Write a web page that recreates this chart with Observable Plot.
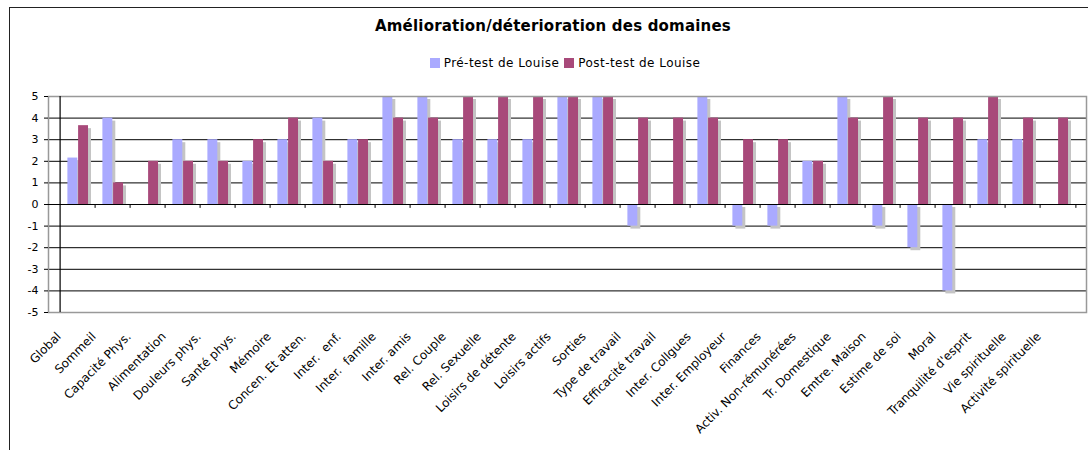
<!DOCTYPE html>
<html>
<head>
<meta charset="utf-8">
<script src="https://cdn.jsdelivr.net/npm/d3@7"></script>
<script src="https://cdn.jsdelivr.net/npm/@observablehq/plot@0.6"></script>
<style>
  html, body { margin: 0; padding: 0; background: #fff; }
  #wrap { position: relative; width: 1088px; height: 450px; overflow: hidden; font-family: "DejaVu Sans", Verdana, sans-serif; }
  #border { position: absolute; left: 9px; top: 7px; width: 1200px; height: 500px; border-top: 1px solid #222; border-left: 1px solid #222; }
  #title { position: absolute; left: 0; width: 1106px; top: 17px; text-align: center; font-weight: bold; font-size: 15px; letter-spacing: 0.2px; color: #000; }
  #legend { position: absolute; left: 0; width: 1130px; top: 56px; display: flex; justify-content: center; gap: 5px; font-size: 12px; letter-spacing: 0.45px; color: #000; }
  .item { display: flex; align-items: center; gap: 4px; }
  .sw { width: 10px; height: 10px; display: inline-block; }
  #chart { position: absolute; left: 0; top: 80px; }
</style>
</head>
<body>
<div id="wrap">
  <div id="border"></div>
  <div id="title">Amélioration/déterioration des domaines</div>
  <div id="legend"></div>
  <div id="chart"></div>
</div>
<script>
const categories = ["Global", "Sommeil", "Capacité Phys.", "Alimentation", "Douleurs phys.", "Santé phys.", "Mémoire", "Concen. Et atten.", "Inter.  enf.", "Inter.  famille", "Inter. amis", "Rel. Couple", "Rel. Sexuelle", "Loisirs de détente", "Loisirs actifs", "Sorties", "Type de travail", "Efficacité travail", "Inter. Collgues", "Inter. Employeur", "Finances", "Activ. Non-rémunérées", "Tr. Domestique", "Emtre. Maison", "Estime de soi", "Moral", "Tranquilité d'esprit", "Vie spirituelle", "Activité spirituelle"];
const seriesNames = ["Pré-test de Louise", "Post-test de Louise"];
const preValues  = [2.15, 4, 0, 3, 3, 2, 3, 4, 3, 5, 5, 3, 3, 3, 5, 5, -1, 0, 5, -1, -1, 2, 5, -1, -2, -4, 3, 3, 0];
const postValues = [3.65, 1, 2, 2, 2, 3, 4, 2, 3, 4, 4, 5, 5, 5, 5, 5, 4, 4, 4, 3, 3, 2, 4, 5, 4, 4, 5, 4, 4];
const yTicks = [-5, -4, -3, -2, -1, 0, 1, 2, 3, 4, 5];
const colors = ["#aaaaff", "#a8497a"];

// legend
const leg = document.getElementById("legend");
seriesNames.forEach((s, i) => {
  const it = document.createElement("span");
  it.className = "item";
  const sw = document.createElement("span");
  sw.className = "sw";
  sw.style.background = colors[i];
  it.appendChild(sw);
  it.appendChild(document.createTextNode(s));
  leg.appendChild(it);
});

const W = 1088, H = 370, mL = 48, mR = 2, mT = 16, mB = 138;
const bw = (W - mL - mR) / categories.length;
const barW = 10.7;
const preIn = [7.4, bw - 7.4 - barW];
const postIn = [7.4 + barW, bw - 7.4 - 2 * barW];

const pre = categories.map((c, i) => ({cat: c, v: preValues[i]}));
const post = categories.map((c, i) => ({cat: c, v: postValues[i]}));
const shadowCol = "#c4c4c4";

function shadows(data, ins) {
  return [
    Plot.barY(data.filter(d => d.v > 0), {x: "cat", y: "v", fill: shadowCol, insetLeft: ins[0], insetRight: ins[1], insetTop: 3, dx: 3}),
    Plot.barY(data.filter(d => d.v < 0), {x: "cat", y: "v", fill: shadowCol, insetLeft: ins[0], insetRight: ins[1], dx: 3, dy: 3})
  ];
}

const chart = Plot.plot({
  width: W, height: H,
  marginLeft: mL, marginRight: mR, marginTop: mT, marginBottom: mB,
  style: {fontFamily: "DejaVu Sans, Verdana, sans-serif", fontSize: "11px", color: "#000", background: "transparent"},
  x: {type: "band", domain: categories, padding: 0, label: null, axis: null},
  y: {domain: [-5, 5], label: null},
  marks: [
    Plot.ruleY(yTicks.filter(t => t !== 0 && Math.abs(t) !== 5), {stroke: "#000", strokeWidth: 1}),
    ...shadows(pre, preIn),
    ...shadows(post, postIn),
    Plot.barY(pre.filter(d => d.v !== 0), {x: "cat", y: "v", fill: colors[0], insetLeft: preIn[0], insetRight: preIn[1]}),
    Plot.barY(post.filter(d => d.v !== 0), {x: "cat", y: "v", fill: colors[1], insetLeft: postIn[0], insetRight: postIn[1]}),
    Plot.frame({stroke: "#999", strokeWidth: 1.5}),
    Plot.ruleY([0], {stroke: "#000", strokeWidth: 1}),
    Plot.ruleX(categories.slice(1), {x: d => d, y1: 0, y2: -0.18, stroke: "#000", dx: -bw / 2}),
    Plot.ruleX([categories[categories.length - 1]], {x: d => d, y1: 0, y2: -0.18, stroke: "#000", dx: bw / 2}),
    Plot.ruleX([categories[0]], {x: d => d, y1: -5, y2: 5, dx: -bw / 2, stroke: "#000", strokeWidth: 1.2}),
    Plot.axisY({ticks: yTicks, tickSize: 4, tickPadding: 6, tickFormat: d => String(d), fontSize: 11, stroke: "#000"}),
    Plot.text(categories, {x: d => d, y: () => yTicks[0], text: d => d, rotate: -45, textAnchor: "end", lineAnchor: "middle", fontSize: 12, dx: -19, dy: 22, fill: "#000", clip: false})
  ]
});
document.getElementById("chart").appendChild(chart);
</script>
</body>
</html>
